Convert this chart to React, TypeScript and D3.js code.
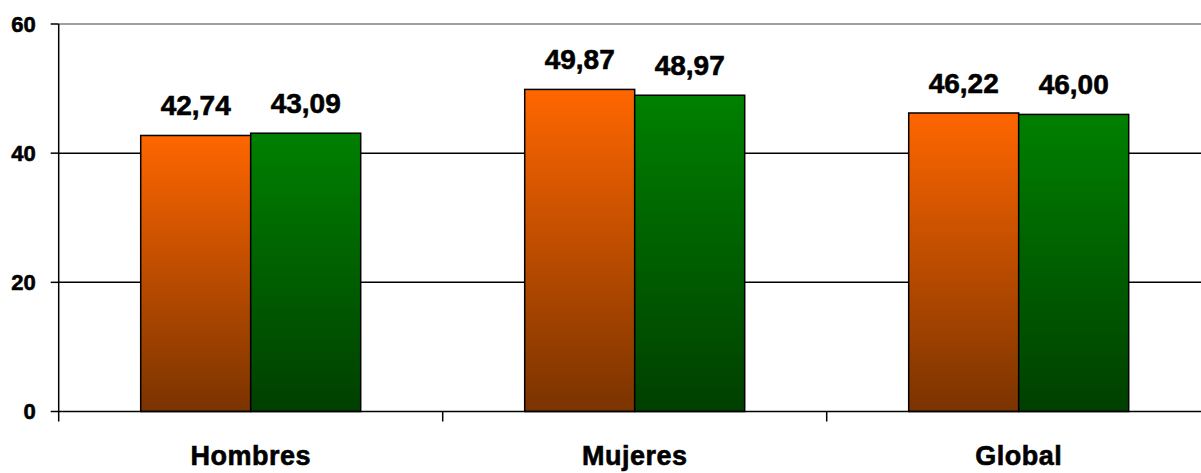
import React from "react";
import * as d3 from "d3";

const categories = ["Hombres", "Mujeres", "Global"];
const seriesNames = ["Serie 1", "Serie 2"];
const serie1 = [42.74, 49.87, 46.22];
const serie2 = [43.09, 48.97, 46.0];
const yTicks = [0, 20, 40, 60];

const W = 1201;
const H = 473;
const left = 58.7;
const top = 24;
const bottom = 411.5;
const catWidth = 384;

const fmt = (v: number) => v.toFixed(2).replace(".", ",");

export default function App() {
  const x = d3
    .scaleBand<string>()
    .domain(categories)
    .range([left, left + catWidth * categories.length])
    .paddingInner(0)
    .paddingOuter(0);
  const y = d3.scaleLinear().domain([0, 60]).range([bottom, top]);
  const barW = 110;
  const x1 = d3
    .scaleBand<string>()
    .domain(seriesNames)
    .range([0, barW * 2]);
  const series = [serie1, serie2];
  const grads = ["gOrange", "gGreen"];
  const font = "'Liberation Sans', Arial, sans-serif";
  const heavy = { stroke: "#000", strokeWidth: 0.6 };

  return (
    <svg
      width={W}
      height={H}
      style={{ position: "absolute", left: 0, top: 0, display: "block" }}
    >
      <defs>
        <linearGradient id="gOrange" x1="0" y1="0" x2="0" y2="1">
          <stop offset="0%" stopColor="#FF6600" />
          <stop offset="100%" stopColor="#7A3300" />
        </linearGradient>
        <linearGradient id="gGreen" x1="0" y1="0" x2="0" y2="1">
          <stop offset="0%" stopColor="#008000" />
          <stop offset="100%" stopColor="#003F00" />
        </linearGradient>
      </defs>
      <rect x={0} y={0} width={W} height={H} fill="#fff" />
      {yTicks.map((t) => (
        <g key={t}>
          {t !== 0 && (
            <line
              x1={left}
              x2={W}
              y1={y(t)}
              y2={y(t)}
              stroke={t === 60 ? "#808080" : "#000"}
              strokeWidth={1.5}
            />
          )}
          <line x1={left - 8} x2={left} y1={y(t)} y2={y(t)} stroke="#000" strokeWidth={1.5} />
          <text
            x={left - 23}
            y={y(t)}
            dy="0.36em"
            textAnchor="end"
            fontFamily={font}
            fontWeight="bold"
            fontSize={22}
            fill="#000"
            {...heavy}
          >
            {t}
          </text>
        </g>
      ))}
      {categories.map((c, i) => {
        const cx = (x(c) as number) + x.bandwidth() / 2;
        const g0 = cx - barW;
        return (
          <g key={c}>
            {series.map((s, j) => {
              const bx = g0 + (x1(seriesNames[j]) as number);
              const by = y(s[i]);
              return (
                <g key={j}>
                  <rect
                    x={bx}
                    y={by}
                    width={x1.bandwidth()}
                    height={bottom - by}
                    fill={`url(#${grads[j]})`}
                    stroke="#000"
                    strokeWidth={1.5}
                  />
                  <text
                    x={bx + x1.bandwidth() / 2}
                    y={by - 20}
                    textAnchor="middle"
                    fontFamily={font}
                    fontWeight="bold"
                    fontSize={28}
                    fill="#000"
                    {...heavy}
                  >
                    {fmt(s[i])}
                  </text>
                </g>
              );
            })}
            <text
              x={cx}
              y={465}
              textAnchor="middle"
              fontFamily={font}
              fontWeight="bold"
              fontSize={27}
              letterSpacing={0.5}
              fill="#000"
              {...heavy}
            >
              {c}
            </text>
          </g>
        );
      })}
      <line x1={left} x2={W} y1={bottom} y2={bottom} stroke="#000" strokeWidth={1.5} />
      <line x1={left} x2={left} y1={top} y2={bottom + 10} stroke="#000" strokeWidth={1.5} />
      {d3.range(1, categories.length + 1).map((k) => (
        <line
          key={k}
          x1={left + k * catWidth}
          x2={left + k * catWidth}
          y1={bottom}
          y2={bottom + 10}
          stroke="#000"
          strokeWidth={1.5}
        />
      ))}
    </svg>
  );
}
